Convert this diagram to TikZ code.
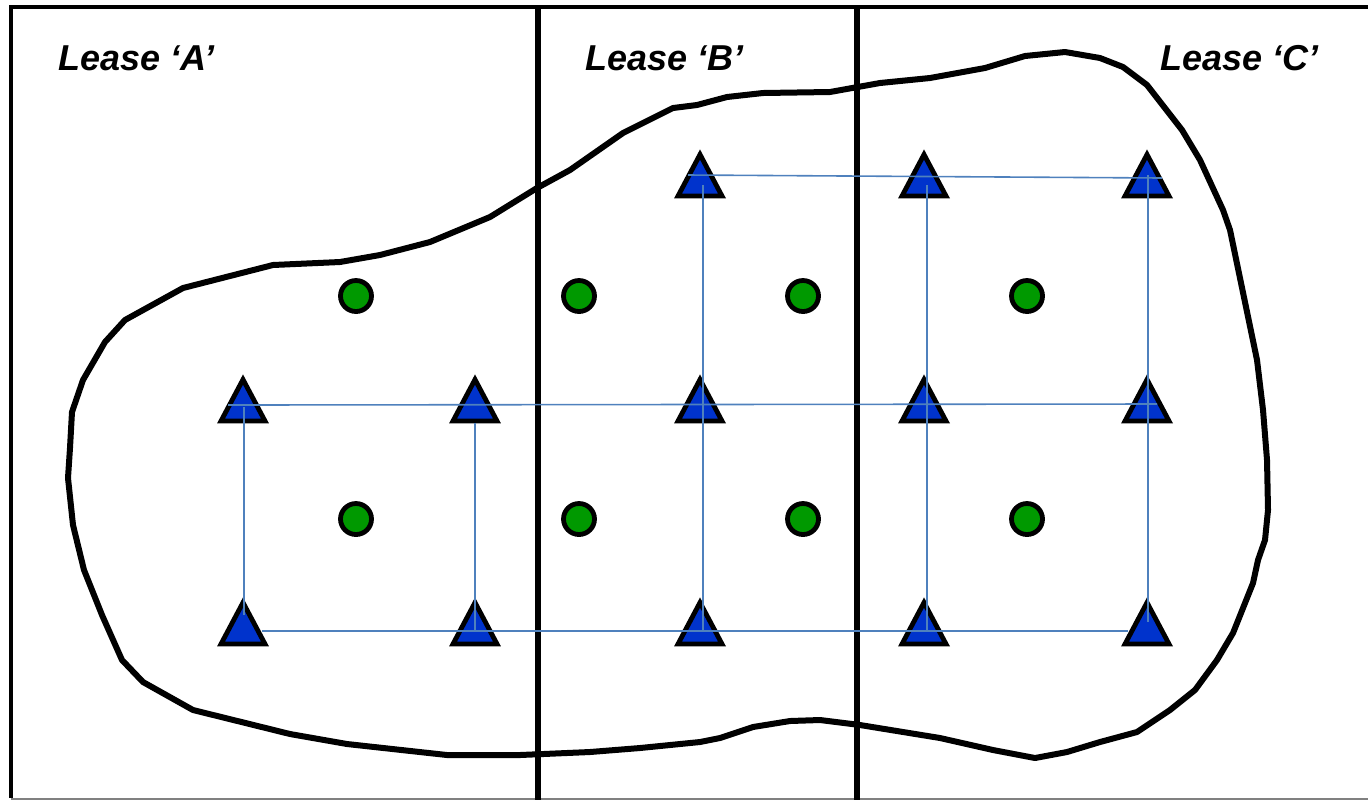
\documentclass[tikz,border=0pt]{standalone}
\usepackage{fontspec}
\setmainfont{Liberation Sans}
\usetikzlibrary{calc}
\definecolor{wellblue}{HTML}{0033CC}
\definecolor{wellgreen}{HTML}{009900}
\definecolor{linkblue}{HTML}{4F81BD}
\tikzset{
  frameline/.style={line width=2.2pt, black},
  leaseline/.style={line width=2.8pt, black},
  blobline/.style={line width=3pt, black, line join=round},
  link/.style={line width=0.8pt, linkblue},
  producer/.pic={\filldraw[fill=wellblue, draw=black, line width=2.4pt, line join=miter]
     (0,4.5) -- (22,46) -- (-22,46) -- cycle;},
  injector/.style={circle, draw=black, fill=wellgreen, line width=2.4pt, minimum size=15.5pt, inner sep=0pt},
  leaselabel/.style={anchor=base west, inner sep=0pt, font=\fontsize{18}{21}\selectfont\bfseries\itshape}
}
\begin{document}
\begin{tikzpicture}[x=0.5pt, y=-0.5pt]
\useasboundingbox (0,0) rectangle (1368,800);
% blob outline
\draw[blobline] (68,478) -- (70,448) -- (72,412) -- (83,380) -- (105,342) -- (125,320) -- (183,288) -- (273,265) -- (340,262) -- (380,255) -- (430,242) -- (490,217) -- (537,188) -- (570,170) -- (623,133) -- (673,108) -- (697,105) -- (727,97) -- (763,93) -- (830,92) -- (880,83) -- (930,78) -- (985,68) -- (1025,56) -- (1065,52) -- (1100,58) -- (1123,67) -- (1147,85) -- (1182,130) -- (1200,160) -- (1223,210) -- (1230,230) -- (1257,360) -- (1263,410) -- (1267,460) -- (1268,510) -- (1265,540) -- (1258,560) -- (1253,583) -- (1233,633) -- (1217,660) -- (1195,690) -- (1170,710) -- (1137,732) -- (1100,742) -- (1067,752) -- (1035,758) -- (993,750) -- (940,738) -- (860,725) -- (820,720) -- (790,721) -- (753,727) -- (720,738) -- (700,742) -- (640,748) -- (590,752) -- (520,755) -- (447,755) -- (347,744) -- (290,734) -- (193,710) -- (143,682) -- (122,660) -- (102,615) -- (84,570) -- (73,525) -- cycle;
% frame
\draw[frameline] (1368,7) -- (11,7) -- (11,798);
\draw[line width=1pt, gray] (11,798.5) -- (1368,798.5);
\draw[leaseline] (538,7) -- (538,800);
\draw[leaseline] (857,7) -- (857,800);
% labels
\node[leaselabel] (la) at (58,70) {Lease ‘A’};
\node[leaselabel] (lb) at (585,70) {Lease ‘B’};
\node[leaselabel] (lc) at (1160,70) {Lease ‘C’};
% producer wells (apex positions)
\coordinate (tT3) at (700,150);
\coordinate (tT4) at (924,150);
\coordinate (tT5) at (1147,150);
\coordinate (tM1) at (243,375);
\coordinate (tM2) at (475,375);
\coordinate (tM3) at (700,375);
\coordinate (tM4) at (924,375);
\coordinate (tM5) at (1147,375);
\coordinate (tB1) at (243,598);
\coordinate (tB2) at (475,598);
\coordinate (tB3) at (700,598);
\coordinate (tB4) at (924,598);
\coordinate (tB5) at (1147,598);
\foreach \t in {tT3,tT4,tT5,tM1,tM2,tM3,tM4,tM5,tB1,tB2,tB3,tB4,tB5}
  \pic at (\t) {producer};
% links
\draw[link] ($(tT3)+(-12,25)$) -- ($(tT5)+(15,28)$);
\draw[link] ($(tM1)+(-15,30)$) -- ($(tM5)+(10,29)$);
\draw[link] ($(tB1)+(19,33)$) -- ($(tB5)+(-19,33)$);
\draw[link] ($(tM1)+(1,32)$) -- ($(tB1)+(1,17)$);
\draw[link] ($(tM2)+(0,48)$) -- ($(tB2)+(0,32)$);
\draw[link] ($(tT3)+(3,35)$) -- ($(tB3)+(3,32)$);
\draw[link] ($(tT4)+(3,35)$) -- ($(tB4)+(3,32)$);
\draw[link] ($(tT5)+(1,25)$) -- ($(tB5)+(1,24)$);
% injector wells
\node[injector] (i1) at (356,296) {};
\node[injector] (i2) at (579,296) {};
\node[injector] (i3) at (803,296) {};
\node[injector] (i4) at (1027,296) {};
\node[injector] (i5) at (356,519) {};
\node[injector] (i6) at (579,519) {};
\node[injector] (i7) at (803,519) {};
\node[injector] (i8) at (1027,519) {};
\end{tikzpicture}
\end{document}
